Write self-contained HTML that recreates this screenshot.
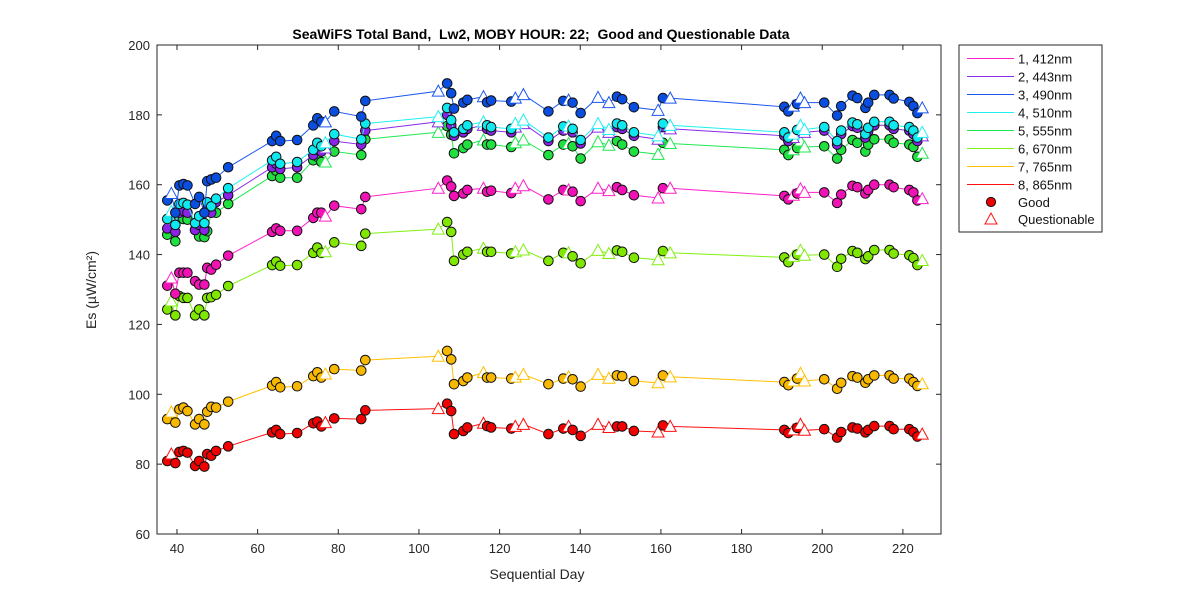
<!DOCTYPE html>
<html><head><meta charset="utf-8"><style>
body{margin:0;background:#fff;}
svg{display:block;font-family:"Liberation Sans",Arial,sans-serif;}
</style></head><body>
<svg id="chart" width="1200" height="600">
<rect width="1200" height="600" fill="#fff"/>
<text x="541" y="39" text-anchor="middle" font-size="14" font-weight="bold" style="white-space:pre">SeaWiFS Total Band,  Lw2, MOBY HOUR: 22;  Good and Questionable Data</text>
<rect x="157" y="45" width="784" height="489" fill="#fff" stroke="#262626" stroke-width="1"/>
<g id="axes"></g>
<g id="series"></g>
<text x="537" y="579" text-anchor="middle" font-size="14" fill="#262626">Sequential Day</text>
<text transform="translate(96,290) rotate(-90)" text-anchor="middle" font-size="14" fill="#262626">Es (µW/cm²)</text>
<g id="legend"></g>
</svg>
<script>
const days=[37.6,38.6,39.6,40.6,41.6,42.6,44.5,45.5,46.8,47.5,48.5,49.7,52.7,63.6,64.6,65.6,69.8,73.8,74.8,75.8,76.8,79,85.7,86.7,104.8,107,108,108.7,111,112,116,116.9,117.9,122.9,123.9,125.9,132.1,135.8,137.1,138.1,140.1,144.4,147.1,149.1,150.4,153.3,159.3,160.5,162.3,190.6,191.6,192.8,193.8,194.6,195.6,200.5,203.7,204.7,207.5,208.7,210.7,211.4,212.9,216.7,217.7,221.6,222.6,223.6,224.8];
const questionableIdx=[1,20,24,30,34,35,38,41,42,46,48,51,53,54,68];
const s412=[131.1,133.3,128.8,134.8,134.8,134.8,132.4,131.4,131.4,136.2,135.7,137.1,139.7,146.5,147.5,146.8,146.8,150.5,152,152,151,154,153,156.5,159,161.2,159.5,156.8,157.5,158.5,159,158,158.3,157.6,159,159.7,155.8,158.5,158.5,158,155.3,159,158.3,159.3,158.5,157,156.2,159,159,156.8,155.8,157,157.5,158.8,157.8,157.8,154.8,157.2,159.7,159.3,157.5,158.5,160,160,159.3,158.5,157.8,155.5,156];
const s443=[147.5,150,146.5,152,152.5,152,147,148.5,147,153,152,155,157,165,166,164.5,165,168.5,170,169.5,170.5,172.5,171.5,175.5,178,180,177,174,175,176,177,176,175.5,175,176.5,177.5,172.5,175.5,176,175,171.8,176.5,175,176.5,176,174,173,176.5,176,174,172.5,173.5,174.7,176,175,175.5,171.5,174.5,176.8,176.3,173.5,175.3,177,177,176,175.5,174.5,172.5,174];
const s490=[155.5,157.5,152,159.8,160.2,159.8,154.5,156.5,152,161,161.5,162,165,172.5,174,172.5,172.8,177,179,178,178,181,179.5,184,186.8,189,186.2,181.8,183.5,184.3,185.2,183.6,184.1,183.8,184.8,185.8,181,184,184.2,183.5,180.5,185,183.5,185.2,184.5,182.2,181.3,184.8,184.8,182.3,181,182.5,183.1,184.8,183.5,183.5,179.8,182.5,185.5,184.8,182,183.5,185.7,185.7,184.7,183.7,182.5,180.5,182];
const s510=[150.2,152.4,148.5,154.5,154.8,154.3,149,151,149,155,153.8,156,159,167,168,166,166.5,170,172,171,172,174.5,173,177.5,179.5,182,178.5,175,176,177,178,177,176.5,176,177.5,178.5,173.5,176.7,176.8,176,172.8,177.5,175.8,177.5,177,175,174,177.5,177,175,173.5,174.5,175.7,177,175.8,176.5,172.5,175.5,177.8,177.3,174.5,176.3,178,178,177,176.5,175.5,173.5,175];
const s555=[145.7,148.1,143.8,150.5,150.2,150,147.1,145.2,145,146.7,152,152,154.5,162.5,164,162,162,167,168,166.5,166.5,169.5,168.5,173,175,176.8,174.3,169,170.5,171.5,172.8,171.5,171.5,170.8,172,172.8,168.5,171.5,171.8,171,167.5,172.3,171.3,172.5,171.5,169.5,168.7,172,171.8,170,168.5,170,170.5,172.5,170.8,171,167.5,170,172.8,172,169.5,171.5,173,173,172,171.5,170.8,168,169];
const s670=[124.3,126.7,122.6,128.1,127.6,127.6,122.6,124.3,122.6,127.6,127.8,128.5,131,137,138,136.8,137,140.5,142,140.5,140.8,143.5,142.5,146,147.3,149.3,146.5,138.2,140,140.8,141.8,140.8,140.8,140.3,140.8,141.3,138.2,140.5,140.5,139.5,137.5,141.2,140.3,141.2,140.8,139.1,138.5,141,140.5,139.2,137.8,139.5,140,141.2,139.8,140,136.5,138.8,141,140.5,138.7,139.5,141.3,141.3,140.3,139.8,139,137,138.3];
const s765=[92.9,94.9,91.9,95.7,96.2,95.2,91.4,92.9,91.4,95,96.4,96.2,97.9,102.5,103.5,102,102.3,105.2,106.3,104.8,105.8,107.2,106.8,109.8,110.9,112.4,110,102.9,103.8,104.8,106.2,104.8,104.8,104.5,104.9,105.7,102.9,104.5,105,104.3,102.2,105.7,104.6,105.4,105.2,103.8,103.3,105.4,105,103.5,102.6,103.8,104.5,106,103.8,104.3,101.6,103.3,105.2,104.8,103.3,104.3,105.4,105.4,104.5,104.5,103.5,102.4,103];
const s865=[80.9,82.9,80.3,83.5,83.8,83.3,79.5,80.9,79.3,82.9,82.4,83.8,85.1,89.1,89.8,88.6,88.9,91.7,92.2,90.8,91.9,93.1,92.9,95.4,95.9,97.3,95.2,88.6,89.5,90.5,91.7,90.9,90.5,90.2,90.8,91.4,88.6,90.2,90.8,89.8,88.1,91.4,90.5,90.8,90.8,89.5,89.2,91.1,90.8,89.8,88.9,89.8,90.4,91.4,89.7,90.0,87.6,89.2,90.5,90.2,89.1,89.8,90.9,90.9,90.0,90.0,89.2,87.9,88.6];
const xTicks=[40,60,80,100,120,140,160,180,200,220];
const yTicks=[60,80,100,120,140,160,180,200];
const bandLabels=["1, 412nm","2, 443nm","3, 490nm","4, 510nm","5, 555nm","6, 670nm","7, 765nm","8, 865nm"];

const NS="http://www.w3.org/2000/svg";
const X0=157,X1=941,Y0=534,Y1=45,XMIN=35.05,XMAX=229.45,YMIN=60,YMAX=200;
function xs(d){return X0+(d-XMIN)/(XMAX-XMIN)*(X1-X0);}
function ys(v){return Y0-(v-YMIN)/(YMAX-YMIN)*(Y0-Y1);}
function mk(tag,attrs,parent){const e=document.createElementNS(NS,tag);for(const k in attrs)e.setAttribute(k,attrs[k]);parent.appendChild(e);return e;}
const axes=document.getElementById('axes');
xTicks.forEach(t=>{
  const l=mk('line',{x1:xs(t),x2:xs(t),y1:Y0,y2:Y0-5,stroke:'#262626'},axes);
  
  
  const tx=mk('text',{x:xs(t),y:Y0+19,'text-anchor':'middle','font-size':13,fill:'#262626'},axes);
  tx.textContent=t;
  
  
});
yTicks.forEach(t=>{
  const l=mk('line',{x1:X0,x2:X0+5,y1:ys(t),y2:ys(t),stroke:'#262626'},axes);
  
  
  const l2=mk('line',{x1:X1,x2:X1-5,y1:ys(t),y2:ys(t),stroke:'#262626'},axes);
  
  
  const tx=mk('text',{x:X0-7,y:ys(t)+5,'text-anchor':'end','font-size':13,fill:'#262626'},axes);
  tx.textContent=t;
  
  
});
xTicks.forEach(t=>{
  const l=mk('line',{x1:xs(t),x2:xs(t),y1:Y1,y2:Y1+5,stroke:'#262626'},axes);
  
  
});
const seriesList=[
 {v:s412,line:'#ff20c8',fill:'#f012b4'},
 {v:s443,line:'#8a2be8',fill:'#8a22e8'},
 {v:s490,line:'#1a56f0',fill:'#0a4ee0'},
 {v:s510,line:'#20f0f0',fill:'#10e8f0'},
 {v:s555,line:'#20e850',fill:'#20e040'},
 {v:s670,line:'#80f010',fill:'#80e800'},
 {v:s765,line:'#ffc000',fill:'#f8b800'},
 {v:s865,line:'#ff1010',fill:'#f00000'}
];
const order=[7,6,5,0,4,1,3,2];
const sg=document.getElementById('series');
order.forEach(si=>{
  const s=seriesList[si];
  const g=mk('g',{},sg);
  
  
  const pts=days.map((d,i)=>xs(d).toFixed(1)+','+ys(s.v[i]).toFixed(1)).join(' ');
  const pl=mk('polyline',{points:pts,fill:'none',stroke:s.line,'stroke-width':1},g);
  
  
  days.forEach((d,i)=>{
    const cx=xs(d),cy=ys(s.v[i]);
    if(questionableIdx.includes(i)){
      const t=mk('polygon',{points:`${cx},${cy-6} ${cx-6},${cy+5} ${cx+6},${cy+5}`,fill:'#fff',stroke:s.line,'stroke-width':1},g);
      
      
    } else {
      const c=mk('circle',{cx:cx,cy:cy,r:4.8,fill:s.fill,stroke:'#111','stroke-width':1},g);
      
      
    }
  });
});
const lg=document.getElementById('legend');
mk('rect',{x:959,y:45,width:143,height:187,fill:'#fff',stroke:'#262626'},lg);
bandLabels.forEach((lab,i)=>{
  const y=58.5+i*18;
  const l=mk('line',{x1:967,x2:1014,y1:y,y2:y,stroke:seriesList[i].line,'stroke-width':1},lg);
  
  
  const t=mk('text',{x:1018,y:y+5,'font-size':13,fill:'#111'},lg);
  t.textContent=lab;
  
  
});
const gc=mk('circle',{cx:991,cy:202,r:4.6,fill:'#f00000',stroke:'#111'},lg);


const gt=mk('text',{x:1018,y:207,'font-size':13,fill:'#111'},lg);
gt.textContent='Good';


const qm=mk('polygon',{points:'991,213 985,224 997,224',fill:'#fff',stroke:'#ff1010'},lg);


const qt=mk('text',{x:1018,y:224,'font-size':13,fill:'#111'},lg);
qt.textContent='Questionable';


</script>
</body></html>
